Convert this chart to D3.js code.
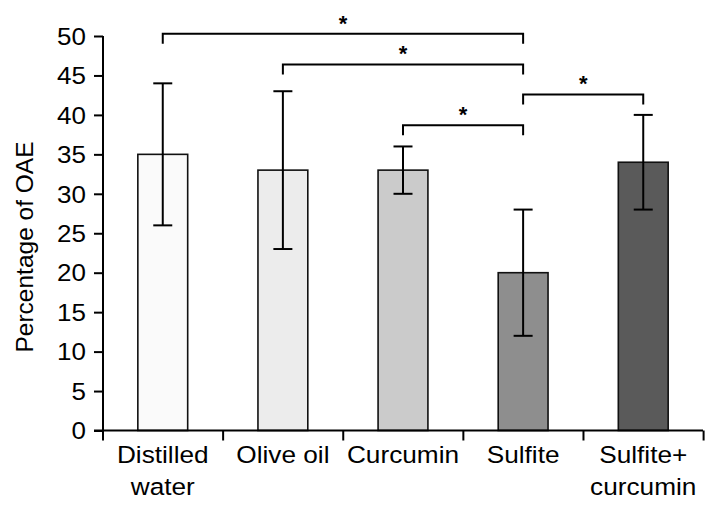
<!DOCTYPE html>
<html>
<head>
<meta charset="utf-8">
<script src="https://cdn.jsdelivr.net/npm/d3@7"></script>
<style>
  body { margin: 0; background: #fff; }
  text { font-family: "Liberation Sans", Arial, sans-serif; fill: #000; }
</style>
</head>
<body>
<div id="chart"></div>
<script>
var categories = ["Distilled water", "Olive oil", "Curcumin", "Sulfite", "Sulfite+ curcumin"];
var labelLines = [["Distilled", "water"], ["Olive oil"], ["Curcumin"], ["Sulfite"], ["Sulfite+", "curcumin"]];
var means = [35, 33, 33, 20, 34];
var errLow = [26, 23, 30, 12, 28];
var errHigh = [44, 43, 36, 28, 40];
var barColors = ["#fafafa", "#ececec", "#cbcbcb", "#8e8e8e", "#5a5a5a"];
var yTicks = [0, 5, 10, 15, 20, 25, 30, 35, 40, 45, 50];
// significance brackets: from, to, level
var brackets = [
  { from: 0, to: 3, level: 50.3 },
  { from: 1, to: 3, level: 46.4 },
  { from: 2, to: 3, level: 38.7 },
  { from: 3, to: 4, level: 42.6 }
];

var width = 719, height = 517;
var margin = { top: 36, right: 16, bottom: 87, left: 103 };

var svg = d3.select("#chart").append("svg")
    .attr("width", width)
    .attr("height", height);

var g = svg.append("g")
    .attr("transform", "translate(" + margin.left + "," + margin.top + ")");

var w = width - margin.left - margin.right,
    h = height - margin.top - margin.bottom;

var x = d3.scaleBand()
    .domain(categories)
    .range([0, 600])
    .paddingInner(0.585)
    .paddingOuter(0.29);

var y = d3.scaleLinear()
    .domain([0, 50])
    .range([h + 0.5, 0]);

// bars
g.selectAll(".bar")
    .data(categories)
  .enter().append("rect")
    .attr("class", "bar")
    .attr("x", function(d) { return x(d); })
    .attr("width", x.bandwidth())
    .attr("y", function(d, i) { return y(means[i]); })
    .attr("height", function(d, i) { return y(0) - y(means[i]); })
    .attr("fill", function(d, i) { return barColors[i]; })
    .attr("stroke", "#111")
    .attr("stroke-width", 1.6);

// error bars
var cx = function(d) { return x(d) + x.bandwidth() / 2; };
var err = g.append("g").attr("stroke", "#000").attr("stroke-width", 2);
categories.forEach(function(d, i) {
  err.append("line").attr("x1", cx(d)).attr("x2", cx(d))
    .attr("y1", y(errLow[i])).attr("y2", y(errHigh[i]));
  [errLow[i], errHigh[i]].forEach(function(v) {
    err.append("line").attr("x1", cx(d) - 9.5).attr("x2", cx(d) + 9.5)
      .attr("y1", y(v)).attr("y2", y(v));
  });
});

// y axis
var yAxis = g.append("g")
    .call(d3.axisLeft(y).tickValues(yTicks).tickSize(9));
yAxis.select(".domain").attr("stroke-width", 2).attr("d", "M0," + y(0) + "V" + y(50));
yAxis.selectAll(".tick line").attr("stroke-width", 2);
// the labels in the picture are a bit wider than Liberation Sans
yAxis.selectAll("text")
    .attr("x", 0)
    .attr("dy", "0.36em")
    .attr("transform", "translate(-17,0) scale(1.13,1)")
    .style("font-size", "23px")
    .style("font-family", "Liberation Sans, Arial, sans-serif");

// x axis with ticks between bars
var xLine = g.append("g").attr("stroke", "#000").attr("stroke-width", 2);
xLine.append("line").attr("x1", -9).attr("x2", 600).attr("y1", y(0)).attr("y2", y(0));
d3.range(categories.length + 1).forEach(function(i) {
  var b = i * x.step();
  xLine.append("line").attr("x1", b).attr("x2", b).attr("y1", y(0)).attr("y2", y(0) + 10);
});

// category labels
categories.forEach(function(d, i) {
  var t = g.append("text")
      .attr("transform", "translate(" + cx(d) + "," + (h + 33) + ") scale(1.07,1)")
      .attr("text-anchor", "middle")
      .style("font-size", "24.5px");
  labelLines[i].forEach(function(line, k) {
    t.append("tspan").attr("x", 0).attr("dy", k === 0 ? 0 : 32).text(line);
  });
});

// y label
svg.append("text")
    .attr("transform", "translate(33,247) rotate(-90)")
    .attr("text-anchor", "middle")
    .style("font-size", "24.5px")
    .text("Percentage of OAE");

// significance brackets
var br = g.append("g");
brackets.forEach(function(b) {
  var x1 = cx(categories[b.from]), x2 = cx(categories[b.to]);
  var yy = y(b.level);
  br.append("path")
    .attr("d", "M" + x1 + "," + (yy + 10) + "V" + yy + "H" + x2 + "V" + (yy + 10))
    .attr("fill", "none").attr("stroke", "#000").attr("stroke-width", 2);
  br.append("text")
    .attr("x", (x1 + x2) / 2)
    .attr("y", yy - 3)
    .attr("text-anchor", "middle")
    .style("font-size", "22px")
    .style("font-weight", "bold")
    .text("*");
});
</script>
</body>
</html>
